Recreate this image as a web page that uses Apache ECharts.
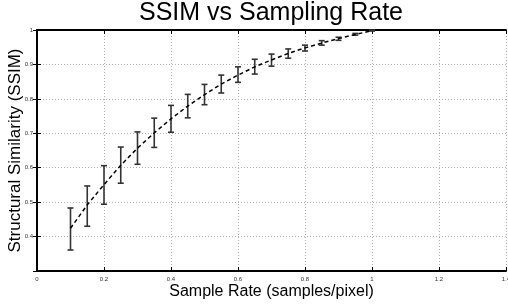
<!DOCTYPE html>
<html>
<head>
<meta charset="utf-8">
<script src="https://cdn.jsdelivr.net/npm/echarts@6/dist/echarts.min.js"></script>
<style>
  html, body { margin: 0; padding: 0; background: #fff; }
  #main { width: 508px; height: 307px; }
</style>
</head>
<body>
<div id="main"></div>
<script>
// sample rates (x) and SSIM mean / error bar ends
var rates    = [0.1, 0.15, 0.2, 0.25, 0.3, 0.35, 0.4, 0.45, 0.5, 0.55, 0.6, 0.65, 0.7, 0.75, 0.8, 0.85, 0.9, 0.95, 1.0];
var ssimMean = [0.424, 0.492, 0.551, 0.607, 0.657, 0.701, 0.742, 0.779, 0.812, 0.843, 0.869, 0.893, 0.913, 0.932, 0.948, 0.962, 0.975, 0.987, 0.998];
var ssimLow  = [0.361, 0.430, 0.494, 0.555, 0.610, 0.659, 0.703, 0.745, 0.783, 0.817, 0.848, 0.872, 0.895, 0.918, 0.939, 0.956, 0.970, 0.985, 0.997];
var ssimHigh = [0.483, 0.547, 0.606, 0.660, 0.704, 0.744, 0.781, 0.813, 0.842, 0.869, 0.893, 0.915, 0.930, 0.945, 0.956, 0.969, 0.979, 0.990, 1.000];

var font = 'Liberation Sans, Arial, Helvetica, sans-serif';

var lineData = rates.map(function (r, i) { return [r, ssimMean[i]]; });
var barData = rates.map(function (r, i) { return [r, ssimLow[i], ssimHigh[i]]; });

var myChart = echarts.init(document.getElementById('main'));

var gridLine = { show: true, lineStyle: { color: '#b0b0b0', type: [1, 2], width: 1 } };
var frame = { show: true, lineStyle: { color: '#000', width: 2 } };
var inTick = { show: true, inside: true, length: 4, lineStyle: { color: '#000' } };

option = {
    animation: false,
    backgroundColor: '#fff',
    title: {
        text: 'SSIM vs Sampling Rate',
        left: 266,
        textAlign: 'center',
        top: -4,
        textStyle: { fontFamily: font, fontSize: 25, fontWeight: 'normal', color: '#000' }
    },
    grid: { left: 37, right: 2, top: 30, bottom: 36, containLabel: false, outerBoundsMode: 'none' },
    xAxis: [{
        type: 'value',
        min: 0, max: 1.4, interval: 0.2,
        name: 'Sample Rate (samples/pixel)',
        nameLocation: 'middle',
        nameGap: 13,
        nameMoveOverlap: false,
        nameTextStyle: { fontFamily: font, fontSize: 16, color: '#000' },
        axisLine: frame,
        axisTick: inTick,
        axisLabel: {
            fontFamily: font, fontSize: 6, color: '#333', margin: 5,
            formatter: function (v) { return String(+v.toFixed(1)); }
        },
        splitLine: gridLine
    }, {
        type: 'value', position: 'top',
        min: 0, max: 1.4, interval: 0.2,
        axisLine: frame,
        axisTick: inTick,
        axisLabel: { show: false },
        splitLine: { show: false }
    }],
    yAxis: [{
        type: 'value',
        min: 0.3, max: 1, interval: 0.1,
        name: 'Structural Similarity (SSIM)',
        nameLocation: 'middle',
        nameGap: 13,
        nameMoveOverlap: false,
        nameTextStyle: { fontFamily: font, fontSize: 17, color: '#000' },
        axisLine: frame,
        axisTick: inTick,
        axisLabel: {
            fontFamily: font, fontSize: 6, color: '#333', margin: 4,
            formatter: function (v) { return v < 0.35 ? '' : String(+v.toFixed(1)); }
        },
        splitLine: gridLine
    }, {
        type: 'value', position: 'right',
        min: 0.3, max: 1, interval: 0.1,
        axisLine: frame,
        axisTick: inTick,
        axisLabel: { show: false },
        splitLine: { show: false }
    }],
    series: [{
        name: 'error',
        type: 'custom',
        xAxisIndex: 0,
        yAxisIndex: 0,
        data: barData,
        z: 2,
        renderItem: function (params, api) {
            var lo = api.coord([api.value(0), api.value(1)]);
            var hi = api.coord([api.value(0), api.value(2)]);
            var w = 3;
            var st = { stroke: '#333', lineWidth: 1.6 };
            return {
                type: 'group',
                children: [
                    { type: 'line', shape: { x1: lo[0], y1: lo[1], x2: hi[0], y2: hi[1] }, style: st },
                    { type: 'line', shape: { x1: lo[0] - w, y1: lo[1], x2: lo[0] + w, y2: lo[1] }, style: st },
                    { type: 'line', shape: { x1: hi[0] - w, y1: hi[1], x2: hi[0] + w, y2: hi[1] }, style: st }
                ]
            };
        }
    }, {
        name: 'mean',
        type: 'line',
        xAxisIndex: 0,
        yAxisIndex: 0,
        data: lineData,
        z: 3,
        symbol: 'none',
        lineStyle: { color: '#000', width: 1.5, type: [4, 3] }
    }]
};

myChart.setOption(option);
</script>
</body>
</html>
